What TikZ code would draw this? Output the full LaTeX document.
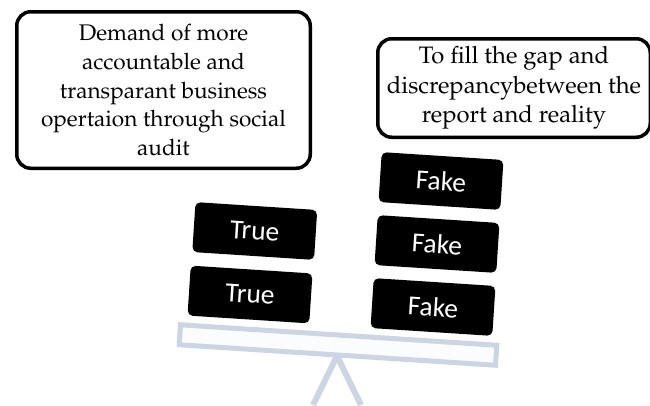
\documentclass[tikz,border=0pt]{standalone}
\usepackage[T1]{fontenc}
\usepackage{fontspec}
\newfontfamily\carlito{Carlito}
\definecolor{seesaw}{HTML}{CDD5E5}
\definecolor{plankfill}{HTML}{FBFCFE}
\begin{document}
\begin{tikzpicture}[x=1pt,y=-1pt,
  note/.style={draw=black, line width=3.5pt, rounded corners=14pt, fill=white, align=center,
    inner sep=0pt},
  weight/.style={fill=black, rounded corners=5pt, minimum width=122pt, minimum height=50pt,
    text=white, font=\carlito\fontsize{27.5}{30}\selectfont, rotate=-3.7, inner sep=0pt},
  plank/.style={draw=seesaw, line width=5pt, fill=plankfill, minimum width=317pt,
    minimum height=20pt, rotate=-3.7, inner sep=0pt},
  leg/.style={draw=seesaw, line width=6pt}]
\useasboundingbox (0,0) rectangle (650,405);
% fulcrum
\coordinate (apex) at (337,356);
\coordinate (legl) at (313,405);
\coordinate (legr) at (361,405);
\draw[leg] (legl) -- (apex) -- (legr);
% plank
\node[plank] (board) at (338,345) {};
% text boxes
\node[note, minimum width=293.5pt, minimum height=156.5pt,
  font=\fontencoding{T1}\fontfamily{ppl}\fontsize{22.6}{28.6}\selectfont] (demand) at (163.5,90)
  {Demand of more\\accountable and\\transparant business\\opertaion through social\\audit};
\node[note, minimum width=272.5pt, minimum height=98.5pt,
  font=\fontencoding{T1}\fontfamily{ppl}\fontsize{23.8}{29.5}\selectfont] (gap) at (514,88)
  {To fill the gap and\\discrepancybetween the\\report and reality};
% weights
\node[weight] (true1) at (254.75,231) {True};
\node[weight] (true2) at (250,294.5) {True};
\node[weight] (fake1) at (441,181) {Fake};
\node[weight] (fake2) at (437,244) {Fake};
\node[weight] (fake3) at (433,307) {Fake};
\end{tikzpicture}
\end{document}
